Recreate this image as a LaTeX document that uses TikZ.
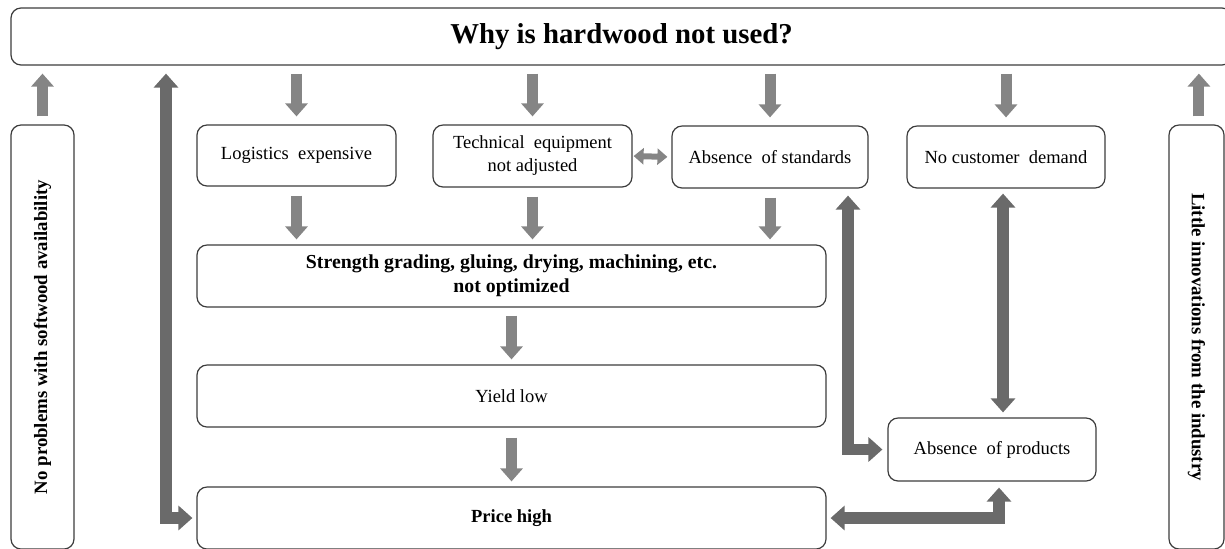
\documentclass[tikz,border=0pt]{standalone}
\usepackage{fontspec}
\usepackage{graphicx}
\setmainfont{Liberation Serif}
\usetikzlibrary{arrows.meta}
\definecolor{lightarr}{HTML}{858585}
\definecolor{darkarr}{HTML}{6A6A6A}
\definecolor{boxline}{HTML}{3C3C3C}
\begin{document}
\begin{tikzpicture}[x=0.5pt,y=-0.5pt,
  box/.style={draw=boxline, line width=0.6pt, rounded corners=5pt, fill=white,
    inner sep=0pt, align=center, font=\fontsize{9.25}{11.5}\selectfont},
  lightarrow/.style={draw=lightarr, line width=5.5pt,
    -{Triangle[length=6.5pt,width=11pt]}},
  smalldbl/.style={draw=lightarr, line width=3pt,
    {Triangle[length=5pt,width=8pt]}-{Triangle[length=5pt,width=8pt]}},
  darkarrow/.style={draw=darkarr, line width=5.8pt, line join=miter,
    {Triangle[length=7pt,width=12pt]}-{Triangle[length=7pt,width=12pt]}}
]
\useasboundingbox (0,0) rectangle (1225,548);

% boxes
\node[box, minimum width=610.5pt, minimum height=28.5pt,
  font=\fontsize{14.4}{16}\bfseries] (title) at (621.5,36.5) {Why is hardwood not used?};
\node[box, minimum width=31.5pt, minimum height=212pt, font=\fontsize{9.4}{11.5}\bfseries]
  (left) at (42.5,337) {\rotatebox{90}{No problems with softwood availability}};
\node[box, minimum width=27.5pt, minimum height=212pt, font=\fontsize{9.4}{11.5}\bfseries]
  (right) at (1196.5,337) {\rotatebox{-90}{Little innovations from the industry}};
\node[box, minimum width=99.5pt, minimum height=30.5pt] (logi) at (296.5,155.5) {Logistics\ \ expensive};
\node[box, minimum width=99.5pt, minimum height=31pt] (tech) at (532.5,156) {Technical\ \ equipment\\not adjusted};
\node[box, minimum width=98pt, minimum height=31pt] (std) at (770,157) {Absence\ \ of standards};
\node[box, minimum width=99pt, minimum height=31pt] (cust) at (1006,157) {No customer\ \ demand};
\node[box, minimum width=314.5pt, minimum height=31pt, font=\fontsize{9.9}{11.8}\bfseries]
  (strength) at (511.5,276) {Strength grading, gluing, drying, machining, etc.\\not optimized};
\node[box, minimum width=314.5pt, minimum height=31pt] (yield) at (511.5,396) {Yield low};
\node[box, minimum width=314.5pt, minimum height=31pt, font=\fontsize{9.25}{11.5}\bfseries]
  (price) at (511.5,518) {Price high};
\node[box, minimum width=104pt, minimum height=31.5pt] (prod) at (992,449.5) {Absence\ \ of products};

% helper coordinates for connector lanes
\coordinate (lx) at (166,0);
\coordinate (sx) at (848,0);
\coordinate (cx) at (1003,0);
\coordinate (px) at (999,0);

% light arrows
\draw[lightarrow, shorten <=4pt, shorten >=4pt] (left.north) -- (left.north |- title.south);
\draw[lightarrow, shorten <=4pt, shorten >=4pt] ([xshift=1.2pt]right.north) -- ([xshift=1.2pt]right.north |- title.south);
\foreach \n in {logi,tech,std,cust}
  \draw[lightarrow, shorten <=4pt, shorten >=4pt] (title.south -| \n.north) -- (\n.north);
\foreach \n in {logi,tech,std}
  \draw[lightarrow, shorten <=4.5pt, shorten >=2.5pt] (\n.south) -- (\n.south |- strength.north);
\draw[lightarrow, shorten <=4pt, shorten >=2.5pt] (strength.south) -- (yield.north);
\draw[lightarrow, shorten <=5pt, shorten >=2.5pt] (yield.south) -- (price.north);
\draw[smalldbl, shorten <=0.5pt, shorten >=2pt] (tech.east) -- (std.west);

% dark arrows
\draw[darkarrow, shorten <=4pt, shorten >=2pt] (title.south -| lx) |- (price.west);
\draw[darkarrow, shorten <=3.5pt, shorten >=2.5pt] (std.south -| sx) |- (prod.west);
\draw[darkarrow, shorten <=2.5pt, shorten >=2.5pt] (cust.south -| cx) -- (prod.north -| cx);
\draw[darkarrow, shorten <=2pt, shorten >=3pt] (price.east) -| (prod.south -| px);
\end{tikzpicture}
\end{document}
